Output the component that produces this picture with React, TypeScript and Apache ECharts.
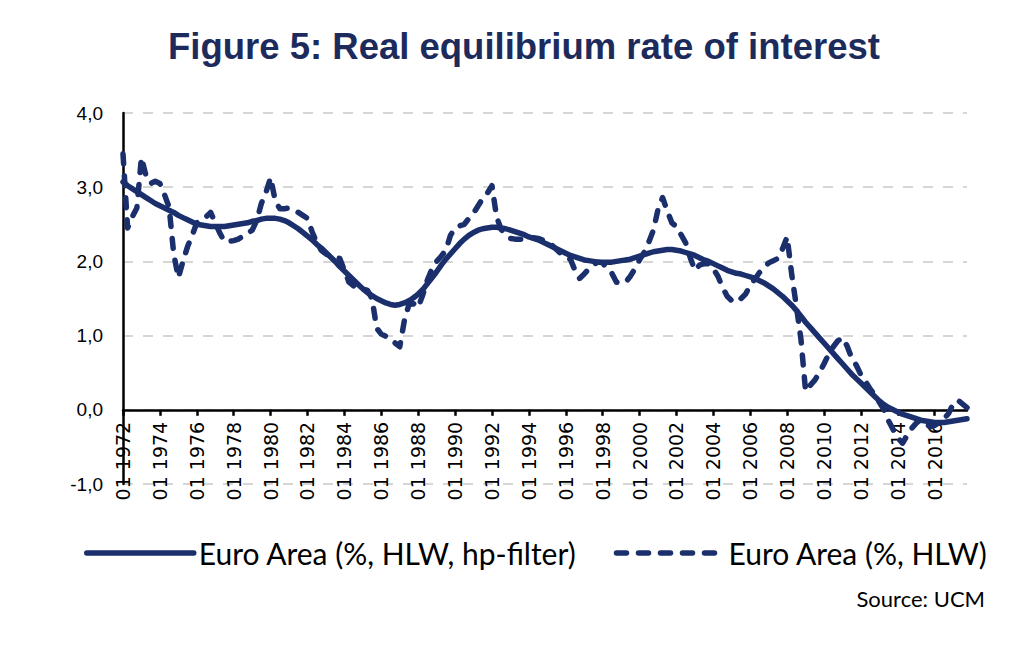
import React, { useEffect, useRef } from "react";
import * as echarts from "echarts";

const START_YEAR = 1972;
const END_YEAR = 2017;
const quarterMonths = ["01", "04", "07", "10"];
const categories: string[] = [];
for (let y = START_YEAR; y <= END_YEAR; y++) {
  for (const m of quarterMonths) categories.push(`${m} ${y}`);
}

const seriesNames = ["Euro Area (%, HLW, hp-filter)", "Euro Area (%, HLW)"];

// quarterly, 1972Q1 .. 2017Q4
const hpFilter = [
  3.07, 3.02, 2.98, 2.94,
  2.90, 2.86, 2.82, 2.78,
  2.75, 2.72, 2.69, 2.66,
  2.62, 2.59, 2.56, 2.53,
  2.50, 2.49, 2.48, 2.47,
  2.47, 2.47, 2.47, 2.48,
  2.49, 2.50, 2.51, 2.52,
  2.54, 2.55, 2.57, 2.58,
  2.58, 2.58, 2.57, 2.55,
  2.52, 2.48, 2.44, 2.39,
  2.34, 2.29, 2.23, 2.18,
  2.12, 2.06, 2.00, 1.93,
  1.87, 1.81, 1.75, 1.69,
  1.63, 1.58, 1.54, 1.50,
  1.47, 1.44, 1.42, 1.41,
  1.42, 1.44, 1.47, 1.51,
  1.56, 1.62, 1.70, 1.78,
  1.86, 1.95, 2.03, 2.10,
  2.17, 2.24, 2.30, 2.35,
  2.39, 2.42, 2.44, 2.45,
  2.46, 2.46, 2.45, 2.44,
  2.42, 2.40, 2.38, 2.36,
  2.33, 2.31, 2.29, 2.26,
  2.23, 2.20, 2.17, 2.14,
  2.11, 2.08, 2.06, 2.04,
  2.02, 2.01, 2.00, 1.99,
  1.99, 1.99, 1.99, 2.00,
  2.01, 2.02, 2.03, 2.05,
  2.07, 2.09, 2.11, 2.13,
  2.14, 2.15, 2.16, 2.16,
  2.15, 2.14, 2.12, 2.10,
  2.08, 2.05, 2.02, 2.00,
  1.97, 1.94, 1.91, 1.88,
  1.86, 1.84, 1.83, 1.81,
  1.79, 1.77, 1.74, 1.71,
  1.67, 1.63, 1.58, 1.53,
  1.47, 1.41, 1.34, 1.26,
  1.18, 1.11, 1.04, 0.97,
  0.90, 0.83, 0.76, 0.69,
  0.62, 0.55, 0.48, 0.42,
  0.36, 0.30, 0.24, 0.18,
  0.12, 0.07, 0.03, 0.00,
  -0.03, -0.06, -0.08, -0.10,
  -0.12, -0.14, -0.15, -0.16,
  -0.17, -0.17, -0.17, -0.16,
  -0.15, -0.14, -0.13, -0.12,
];

const hlw = [
  3.45, 2.45, 2.60, 2.72,
  3.40, 3.15, 3.05, 3.08,
  3.05, 2.90, 2.73, 2.10,
  1.78, 2.00, 2.20, 2.35,
  2.52, 2.56, 2.60, 2.66,
  2.52, 2.38, 2.27, 2.27,
  2.28, 2.30, 2.34, 2.38,
  2.42, 2.55, 2.78, 2.93,
  3.13, 2.82, 2.71, 2.71,
  2.72, 2.69, 2.66, 2.62,
  2.58, 2.40, 2.25, 2.15,
  2.10, 2.07, 2.05, 2.04,
  1.88, 1.72, 1.67, 1.65,
  1.63, 1.61, 1.50, 1.10,
  1.02, 0.99, 0.95, 0.90,
  0.85, 1.20, 1.42, 1.43,
  1.38, 1.55, 1.75, 1.90,
  2.00, 2.07, 2.15, 2.35,
  2.45, 2.48, 2.50, 2.58,
  2.65, 2.75, 2.85, 2.92,
  3.02, 2.60, 2.43, 2.37,
  2.31, 2.30, 2.30, 2.30,
  2.31, 2.32, 2.31, 2.29,
  2.27, 2.22, 2.16, 2.10,
  2.06, 2.03, 1.88, 1.77,
  1.83, 1.90, 1.96, 1.99,
  1.98, 1.90, 1.84, 1.72,
  1.71, 1.72, 1.80, 1.90,
  2.02, 2.12, 2.26, 2.42,
  2.70, 2.86, 2.68, 2.52,
  2.47, 2.36, 2.25, 2.05,
  1.88, 1.95, 1.97, 1.97,
  1.90, 1.80, 1.65, 1.53,
  1.47, 1.45, 1.50, 1.56,
  1.68, 1.76, 1.85, 1.92,
  1.98, 2.01, 2.04, 2.17,
  2.33, 1.82, 1.40, 0.95,
  0.25, 0.33, 0.40, 0.50,
  0.62, 0.75, 0.85, 0.93,
  0.97, 0.86, 0.70, 0.60,
  0.47, 0.38, 0.28, 0.20,
  0.10, 0.00, -0.15, -0.27,
  -0.38, -0.45, -0.35, -0.25,
  -0.18, -0.13, -0.18, -0.23,
  -0.21, -0.17, -0.12, -0.05,
  0.08, 0.13, 0.08, 0.03,
];

const Y_MIN = -1;
const Y_MAX = 4;
const Y_STEP = 1;

const NAVY = "#1a2f6c";

// plot geometry (pixels)
const PLOT_LEFT = 123;
const PLOT_RIGHT = 57;
const PLOT_TOP = 113;
const PLOT_BOTTOM_Y = 484; // y of the -1,0 line
const PLOT_HEIGHT = PLOT_BOTTOM_Y - PLOT_TOP;
const ZERO_Y = PLOT_TOP + (PLOT_HEIGHT * (Y_MAX - 0)) / (Y_MAX - Y_MIN);

export default function App() {
  const ref = useRef<HTMLDivElement>(null);

  useEffect(() => {
    document.body.style.margin = "0";
    if (!ref.current) return;
    const chart = echarts.init(ref.current, undefined, { renderer: "svg" });
    chart.setOption({
      animation: false,
      backgroundColor: "#ffffff",
      title: [
        {
          text: "Figure 5: Real equilibrium rate of interest",
          left: 168,
          top: 28,
          padding: 0,
          textStyle: {
            fontFamily: "Liberation Sans",
            fontWeight: "bold",
            fontSize: 36.5,
            color: "#1d2b5c",
          },
        },
        {
          text: "Source: UCM",
          right: 39,
          top: 587,
          padding: 0,
          textStyle: {
            fontFamily: "Lato",
            fontWeight: "normal",
            fontSize: 22,
            color: "#000000",
          },
        },
      ],
      legend: {
        data: seriesNames,
        left: 84,
        top: 538,
        padding: 0,
        itemWidth: 107,
        itemHeight: 20,
        itemGap: 37,
        itemStyle: { opacity: 0 },
        lineStyle: { width: 5.5 },
        textStyle: { fontFamily: "Lato", fontSize: 30, color: "#000000" },
      },
      grid: [
        { left: PLOT_LEFT, right: PLOT_RIGHT, top: PLOT_TOP, height: PLOT_HEIGHT, containLabel: false },
        { left: PLOT_LEFT, right: PLOT_RIGHT, top: PLOT_TOP, height: ZERO_Y - PLOT_TOP, containLabel: false },
      ],
      xAxis: [
        {
          gridIndex: 0,
          type: "category",
          data: categories,
          boundaryGap: false,
          axisLine: { show: false },
          axisTick: { show: false },
          axisLabel: { show: false },
          splitLine: { show: false },
        },
        {
          gridIndex: 1,
          type: "category",
          data: categories,
          boundaryGap: false,
          position: "bottom",
          axisLine: { show: true, onZero: false, lineStyle: { color: "#000000", width: 2.5 } },
          axisTick: { show: true, interval: 7, length: 6, lineStyle: { color: "#000000", width: 2.5 } },
          axisLabel: {
            interval: 7,
            rotate: 90,
            margin: 12,
            fontFamily: "DejaVu Sans",
            fontSize: 19,
            color: "#000000",
          },
          splitLine: { show: false },
          z: 1,
        },
      ],
      yAxis: [
        {
          gridIndex: 0,
          type: "value",
          min: Y_MIN,
          max: Y_MAX,
          interval: Y_STEP,
          axisLine: { show: true, lineStyle: { color: "#000000", width: 2.5 } },
          axisTick: { show: false },
          axisLabel: {
            margin: 20,
            fontFamily: "Liberation Sans",
            fontSize: 19,
            color: "#000000",
            formatter: (v: number) => v.toFixed(1).replace(".", ","),
          },
          splitLine: {
            show: true,
            lineStyle: { color: "#d6d6d6", width: 2, type: [10, 10] },
          },
          z: 0,
        },
        {
          gridIndex: 1,
          type: "value",
          min: 0,
          max: 1,
          show: false,
          splitLine: { show: false },
        },
      ],
      series: [
        {
          name: seriesNames[1],
          type: "line",
          xAxisIndex: 0,
          yAxisIndex: 0,
          data: hlw,
          symbol: "none",
          lineStyle: { color: NAVY, width: 5.5, type: [10, 12], cap: "round", join: "round" },
          itemStyle: { color: NAVY },
          z: 5,
        },
        {
          name: seriesNames[0],
          type: "line",
          xAxisIndex: 0,
          yAxisIndex: 0,
          data: hpFilter,
          symbol: "none",
          lineStyle: { color: NAVY, width: 5.5, type: "solid", cap: "round", join: "round" },
          itemStyle: { color: NAVY },
          z: 6,
        },
      ],
    });
    return () => chart.dispose();
  }, []);

  return <div ref={ref} style={{ width: 1024, height: 661 }} />;
}
